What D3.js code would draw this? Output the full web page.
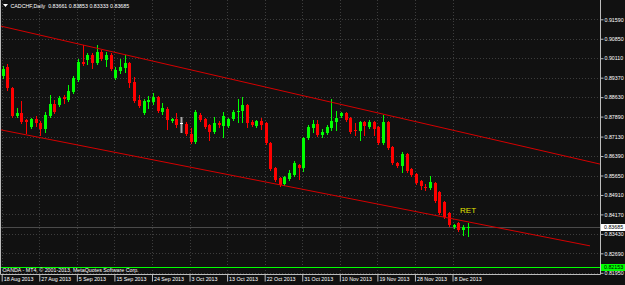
<!DOCTYPE html>
<html>
<head>
<meta charset="utf-8">
<script src="https://cdn.jsdelivr.net/npm/d3@7"></script>
<style>
    html, body { margin: 0; padding: 0; background: #111; }
    svg { display: block; }
    text { font-family: "Liberation Sans", Arial, sans-serif; }
</style>
</head>
<body>
<div id="chart"></div>
<script>
// CADCHF daily, 18 Aug 2013 .. 11 Dec 2013
const symbol = 'CADCHF,Daily';
const lastQuote = ['0.83661', '0.83853', '0.83333', '0.83685'];
const copyright = 'OANDA - MT4, \u00a9 2001-2013, MetaQuotes Software Corp.';

const dateLabels = ['18 Aug 2013', '27 Aug 2013', '5 Sep 2013', '15 Sep 2013', '24 Sep 2013', '3 Oct 2013',
    '13 Oct 2013', '22 Oct 2013', '31 Oct 2013', '10 Nov 2013', '19 Nov 2013', '28 Nov 2013', '8 Dec 2013'];
const dateTickBars = [0, 8, 16, 24, 32, 40, 48, 56, 64, 72, 80, 88, 96];

const priceTicks = ['0.91590', '0.90850', '0.90110', '0.89370', '0.88630', '0.87890', '0.87130',
    '0.86390', '0.85650', '0.84910', '0.84170', '0.83430', '0.82690', '0.81950'];

const open = [0.89434, 0.89777, 0.88978, 0.87913, 0.88027, 0.87761, 0.87495, 0.87799, 0.87647, 0.87419,
    0.87913, 0.88370, 0.88332, 0.88636, 0.88522, 0.88826, 0.89282, 0.89967, 0.90043, 0.90233,
    0.89929, 0.90347, 0.90043, 0.90233, 0.89358, 0.89624, 0.89738, 0.89929, 0.89206, 0.88522,
    0.88027, 0.88446, 0.88446, 0.88636, 0.88065, 0.88180, 0.87723, 0.87799, 0.87628, 0.87609,
    0.87229, 0.86925, 0.87951, 0.87799, 0.87571, 0.87305, 0.87647, 0.87533, 0.87533, 0.87799,
    0.88065, 0.88103, 0.88332, 0.87685, 0.87533, 0.87723, 0.87647, 0.86887, 0.85936, 0.85556,
    0.85328, 0.85518, 0.85670, 0.86050, 0.85936, 0.87077, 0.87457, 0.87609, 0.87191, 0.87267,
    0.87457, 0.87685, 0.87913, 0.88027, 0.87837, 0.87381, 0.87343, 0.87685, 0.87495, 0.87685,
    0.87495, 0.86887, 0.87685, 0.86735, 0.86126, 0.86012, 0.86469, 0.85898, 0.85708, 0.85442,
    0.85214, 0.85176, 0.85366, 0.85024, 0.84643, 0.84225, 0.83693, 0.83845, 0.83579, 0.83661];
const high = [0.89815, 0.89891, 0.89016, 0.88218, 0.88484, 0.87799, 0.87837, 0.87913, 0.87723, 0.88065,
    0.88712, 0.88522, 0.88674, 0.88712, 0.89092, 0.89434, 0.90081, 0.90613, 0.90309, 0.90309,
    0.90613, 0.90423, 0.90347, 0.90309, 0.89777, 0.90081, 0.90233, 0.89967, 0.89396, 0.88712,
    0.88560, 0.88674, 0.88788, 0.88674, 0.88408, 0.88256, 0.87837, 0.88027, 0.87875, 0.87685,
    0.87457, 0.88142, 0.88027, 0.87837, 0.87609, 0.87875, 0.87723, 0.88065, 0.87837, 0.88142,
    0.88560, 0.88636, 0.88370, 0.87761, 0.87761, 0.87837, 0.87685, 0.86925, 0.85974, 0.85594,
    0.85632, 0.85860, 0.86202, 0.86088, 0.87115, 0.87571, 0.87761, 0.87761, 0.87419, 0.87571,
    0.88560, 0.88103, 0.88065, 0.88065, 0.87875, 0.87647, 0.87723, 0.87723, 0.87761, 0.87723,
    0.87533, 0.87951, 0.87723, 0.86773, 0.86164, 0.86545, 0.86507, 0.85936, 0.85746, 0.85480,
    0.85328, 0.85632, 0.85404, 0.85062, 0.84681, 0.84263, 0.83807, 0.83883, 0.83769, 0.83853];
const low = [0.89358, 0.88902, 0.87875, 0.87875, 0.87647, 0.87267, 0.87457, 0.87533, 0.87191, 0.87305,
    0.87875, 0.88027, 0.88294, 0.88408, 0.88484, 0.88788, 0.89244, 0.89853, 0.89891, 0.89738,
    0.89891, 0.90043, 0.89815, 0.89662, 0.89320, 0.89548, 0.89586, 0.89016, 0.88446, 0.88256,
    0.87989, 0.88218, 0.88370, 0.88065, 0.87989, 0.87419, 0.87685, 0.87495, 0.87305, 0.87191,
    0.86887, 0.86887, 0.87723, 0.87457, 0.87001, 0.87267, 0.87495, 0.87115, 0.87495, 0.87761,
    0.87685, 0.87685, 0.87495, 0.87533, 0.87495, 0.87419, 0.86849, 0.85860, 0.85442, 0.85252,
    0.85290, 0.85480, 0.85632, 0.85518, 0.85822, 0.87039, 0.87305, 0.87153, 0.87115, 0.87229,
    0.87381, 0.87381, 0.87875, 0.87723, 0.87267, 0.87191, 0.87001, 0.87191, 0.87457, 0.87191,
    0.86849, 0.86849, 0.86659, 0.86088, 0.85974, 0.85784, 0.85784, 0.85632, 0.85328, 0.85138,
    0.85100, 0.85138, 0.84643, 0.84187, 0.84035, 0.83731, 0.83655, 0.83541, 0.83389, 0.83333];
const close = [0.89700, 0.88978, 0.87913, 0.88027, 0.87685, 0.87685, 0.87799, 0.87647, 0.87419, 0.87951,
    0.88370, 0.88065, 0.88598, 0.88560, 0.88864, 0.89358, 0.89967, 0.89891, 0.90233, 0.89929,
    0.90347, 0.90081, 0.90233, 0.89700, 0.89662, 0.89777, 0.89929, 0.89168, 0.88484, 0.88294,
    0.88484, 0.88522, 0.88636, 0.88103, 0.88218, 0.87761, 0.87799, 0.87571, 0.87628, 0.87229,
    0.86925, 0.88065, 0.87761, 0.87495, 0.87305, 0.87647, 0.87571, 0.87913, 0.87799, 0.88065,
    0.88103, 0.88332, 0.87647, 0.87571, 0.87723, 0.87571, 0.86887, 0.85898, 0.85480, 0.85290,
    0.85594, 0.85746, 0.86126, 0.85936, 0.87077, 0.87495, 0.87609, 0.87191, 0.87305, 0.87495,
    0.87723, 0.87837, 0.88027, 0.87761, 0.87305, 0.87343, 0.87685, 0.87533, 0.87685, 0.87419,
    0.86887, 0.87685, 0.86697, 0.86126, 0.86012, 0.86469, 0.85822, 0.85670, 0.85366, 0.85252,
    0.85176, 0.85404, 0.84681, 0.84225, 0.84073, 0.83769, 0.83769, 0.83579, 0.83693, 0.83685];

const bidPrice = 0.83685;
const levelPrice = 0.82153;
// trend channel, [bar, price] end points
const trendUpper = [[-0.36, 0.91339], [127.41, 0.86084]];
const trendLower = [[-0.36, 0.87392], [125.28, 0.82974]];
const marks = [{text: 'RET', bar: 97.6, price: 0.84339}];

const width = 625, height = 285;
const plotRight = 600, plotBottom = 274;
const fontSize = 5.3;

let svg = d3.select('#chart').append('svg')
    .attr('width', width)
    .attr('height', height);
svg.append('rect').attr('width', width).attr('height', height).attr('fill', '#111');

let x = d3.scaleLinear().domain([0, 1]).range([1.7, 1.7 + 4.696]);
let y = d3.scaleLinear().domain([0.81950, 0.91590]).range([272.8, 19.3]);
let px = v => Math.round(v) + 0.5;

let plot = svg.append('g');

// grid
plot.selectAll('line.hgrid')
    .data(priceTicks)
    .enter()
    .append('line')
    .attr('class', 'hgrid')
    .attr('x1', 0).attr('x2', plotRight)
    .attr('y1', d => px(y(+d))).attr('y2', d => px(y(+d)))
    .attr('stroke', '#3d3d3d')
    .attr('stroke-dasharray', '1,2');
plot.selectAll('line.vgrid')
    .data(dateTickBars)
    .enter()
    .append('line')
    .attr('class', 'vgrid')
    .attr('x1', d => px(x(d))).attr('x2', d => px(x(d)))
    .attr('y1', 0).attr('y2', plotBottom)
    .attr('stroke', '#3d3d3d')
    .attr('stroke-dasharray', '1,2');

// horizontal level and bid line
plot.append('line')
    .attr('x1', 0).attr('x2', plotRight)
    .attr('y1', px(y(levelPrice))).attr('y2', px(y(levelPrice)))
    .attr('stroke', '#00ff00');
plot.append('line')
    .attr('x1', 0).attr('x2', plotRight)
    .attr('y1', px(y(bidPrice))).attr('y2', px(y(bidPrice)))
    .attr('stroke', '#4a4a4a');

// candles
let candleColor = i => close[i] > open[i] ? '#00ff00' : (close[i] < open[i] ? '#ff0000' : '#a8a8a8');
let bars = plot.selectAll('g.candle')
    .data(d3.range(open.length))
    .enter()
    .append('g')
    .attr('class', 'candle');
bars.append('line')
    .attr('x1', i => Math.round(x(i)) + 1.5)
    .attr('x2', i => Math.round(x(i)) + 1.5)
    .attr('y1', i => Math.round(y(high[i])))
    .attr('y2', i => Math.round(y(low[i])) + 1)
    .attr('stroke', candleColor)
    .attr('stroke-width', i => open[i] === close[i] ? 2 : 1);
bars.append('rect')
    .attr('x', i => Math.round(x(i)))
    .attr('width', 3)
    .attr('y', i => Math.round(y(Math.max(open[i], close[i]))))
    .attr('height', i => Math.max(1, Math.round(y(Math.min(open[i], close[i]))) - Math.round(y(Math.max(open[i], close[i])))))
    .attr('fill', i => open[i] === close[i] ? '#ffffff' : candleColor(i));

// trend channel
let line = d3.line().x(d => x(d[0])).y(d => y(d[1]));
[trendUpper, trendLower].forEach(t => {
    plot.append('path')
        .attr('d', line(t))
        .attr('fill', 'none')
        .attr('stroke', '#d40000')
        .attr('stroke-width', 1);
});

plot.selectAll('text.mark')
    .data(marks)
    .enter()
    .append('text')
    .attr('class', 'mark')
    .attr('x', d => x(d.bar))
    .attr('y', d => y(d.price))
    .attr('dy', '0.35em')
    .attr('fill', '#e2e200')
    .style('font-size', '8px')
    .text(d => d.text);

// header and copyright
svg.append('path')
    .attr('d', 'M3,4 L8,4 L5.5,7 Z')
    .attr('fill', '#ffffff');
svg.append('text')
    .attr('x', 10.5).attr('y', 7.6)
    .attr('fill', '#ffffff')
    .style('font-size', fontSize + 'px')
    .style('white-space', 'pre')
    .text(symbol + '  ' + lastQuote.join(' '));
svg.append('text')
    .attr('x', 2.5).attr('y', 272)
    .attr('fill', '#ffffff')
    .style('font-size', fontSize + 'px')
    .text(copyright);

// frame
svg.append('path')
    .attr('d', 'M0.5,0 V' + (plotBottom + 0.5) + ' H' + (plotRight + 0.5) + ' V0')
    .attr('fill', 'none')
    .attr('stroke', '#bdbdbd');

// price axis
let yAxis = d3.axisRight(y)
    .tickValues(priceTicks.map(Number))
    .tickFormat((d, i) => priceTicks[i])
    .tickSize(3)
    .tickSizeOuter(0)
    .tickPadding(1);
let yAxisG = svg.append('g')
    .attr('transform', 'translate(' + (plotRight + 0.5) + ',0)')
    .call(yAxis);
yAxisG.select('.domain').remove();
yAxisG.selectAll('line').attr('stroke', '#bdbdbd');
yAxisG.selectAll('text')
    .attr('fill', '#ffffff')
    .style('font-size', fontSize + 'px')
    .style('font-family', '"Liberation Sans", Arial, sans-serif');

// price boxes
[[bidPrice, '#ffffff', lastQuote[3]], [levelPrice, '#00ff00', levelPrice.toFixed(5)]].forEach(b => {
    let yy = Math.round(y(b[0]));
    svg.append('rect')
        .attr('x', plotRight + 1).attr('y', yy - 3)
        .attr('width', width - plotRight - 1).attr('height', 7)
        .attr('fill', b[1]);
    svg.append('text')
        .attr('x', plotRight + 4).attr('y', yy + 0.5)
        .attr('dy', '0.35em')
        .attr('fill', '#000000')
        .style('font-size', fontSize + 'px')
        .text(b[2]);
});

// date axis
let xAxis = d3.axisBottom(x)
    .tickValues(dateTickBars)
    .tickFormat((d, i) => dateLabels[i])
    .tickSize(7)
    .tickSizeOuter(0);
let xAxisG = svg.append('g')
    .attr('transform', 'translate(0,' + (plotBottom + 0.5) + ')')
    .call(xAxis);
xAxisG.select('.domain').remove();
xAxisG.selectAll('line').attr('stroke', '#bdbdbd');
xAxisG.selectAll('text')
    .attr('x', 1.5)
    .attr('y', 2.6)
    .attr('dy', '0.71em')
    .attr('text-anchor', 'start')
    .attr('fill', '#ffffff')
    .style('font-size', fontSize + 'px')
    .style('font-family', '"Liberation Sans", Arial, sans-serif');
</script>
</body>
</html>
